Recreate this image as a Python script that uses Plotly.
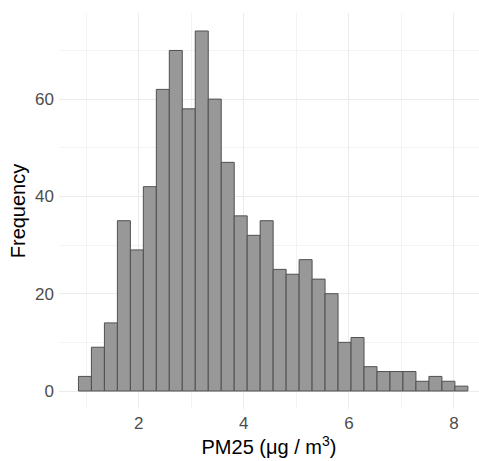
import plotly.graph_objects as go

# Histogram of PM2.5 (30 bins)
bin_start = 0.854
bin_width = 0.247
counts = [3, 9, 14, 35, 29, 42, 62, 70, 58, 74,
          60, 47, 36, 32, 35, 25, 24, 27, 23, 20,
          10, 11, 5, 4, 4, 4, 2, 3, 2, 1]
x_ticks = [2, 4, 6, 8]
y_ticks = [0, 20, 40, 60]

centers = [bin_start + bin_width * (i + 0.5) for i in range(len(counts))]

fig = go.Figure(go.Bar(
    x=centers, y=counts, width=[bin_width] * len(counts),
    marker=dict(color="#989898", line=dict(color="#505050", width=1)),
))

font = "Liberation Sans, Arial, sans-serif"
fig.update_layout(
    width=479, height=461,
    margin=dict(l=59, r=0, t=13, b=52),
    plot_bgcolor="white", paper_bgcolor="white",
    showlegend=False,
    font=dict(family=font, color="#4d4d4d", size=17),
    xaxis=dict(
        range=[0.484, 8.476], tickvals=x_ticks, ticktext=[str(v) for v in x_ticks],
        showgrid=True, gridcolor="#ebebeb", gridwidth=1, zeroline=False,
        minor=dict(dtick=1, tick0=1, showgrid=True, gridcolor="#f3f3f3", gridwidth=1),
        showline=False, ticks="", ticklabelstandoff=2,
        title=dict(text="PM25 (μg / m<sup>3</sup>)", font=dict(size=20, color="black"), standoff=6),
    ),
    yaxis=dict(
        range=[-3.7, 77.7], tickvals=y_ticks, ticktext=[str(v) for v in y_ticks],
        showgrid=True, gridcolor="#ebebeb", gridwidth=1, zeroline=False,
        minor=dict(dtick=10, tick0=0, showgrid=True, gridcolor="#f3f3f3", gridwidth=1),
        showline=False, ticks="", ticklabelstandoff=4,
        title=dict(text="Frequency", font=dict(size=20, color="black"), standoff=4),
    ),
)

fig.write_html("out.html", config={"displayModeBar": False},
               post_script="document.body.style.margin='0';")
